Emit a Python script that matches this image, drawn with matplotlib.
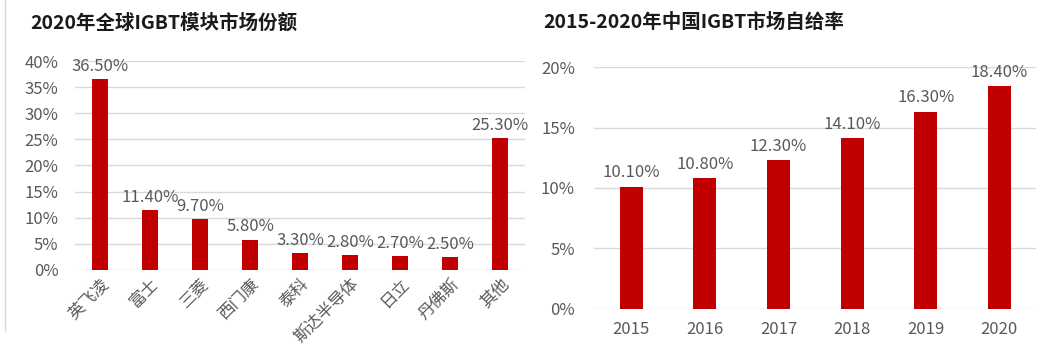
import matplotlib.pyplot as plt
from matplotlib.ticker import PercentFormatter
import matplotlib.lines as mlines

plt.rcParams['font.family'] = ['Noto Sans CJK SC', 'DejaVu Sans']

# Left chart: 2020 global IGBT module market share
companies = ['英飞凌', '富士', '三菱', '西门康', '泰科', '斯达半导体', '日立', '丹佛斯', '其他']
shares = [36.5, 11.4, 9.7, 5.8, 3.3, 2.8, 2.7, 2.5, 25.3]

# Right chart: China IGBT self-sufficiency rate
years = ['2015', '2016', '2017', '2018', '2019', '2020']
self_rate = [10.1, 10.8, 12.3, 14.1, 16.3, 18.4]

RED = '#C00000'
GREY = '#595959'
GRID = '#D9D9D9'

fig = plt.figure(figsize=(10.52, 3.51), dpi=100)
fig.patch.set_facecolor('white')

def style_axes(ax, ymax, step, ypad):
    ax.set_ylim(0, ymax)
    ax.set_yticks([i * step for i in range(int(round(ymax / step)) + 1)])
    ax.yaxis.set_major_formatter(PercentFormatter(decimals=0))
    ax.grid(True, axis='y', color=GRID, linewidth=1)
    ax.set_axisbelow(True)
    for s in ax.spines.values():
        s.set_visible(False)
    ax.tick_params(axis='both', length=0, colors=GREY, labelsize=12)
    ax.tick_params(axis='y', pad=ypad)

# left panel
ax1 = fig.add_axes([0.0713, 0.231, 0.428, 0.595])
x1 = range(len(companies))
ax1.bar(x1, shares, width=0.31, color=RED)
ax1.set_xlim(-0.5, len(companies) - 0.5)
style_axes(ax1, 40, 5, 12)
ax1.set_xticks(list(x1))
ax1.set_xticklabels(companies, rotation=45, ha='right', rotation_mode='anchor')
ax1.tick_params(axis='x', pad=4)
for i, v in zip(x1, shares):
    ax1.annotate(f'{v:.2f}%', (i, v), xytext=(0, 3), textcoords='offset points',
                 ha='center', va='bottom', fontsize=12, color=GREY)
fig.text(0.029, 0.935, '2020年全球IGBT模块市场份额', fontsize=14,
         fontweight='bold', color='#1a1a1a', va='center')

# right panel
ax2 = fig.add_axes([0.565, 0.120, 0.420, 0.689])
x2 = range(len(years))
ax2.bar(x2, self_rate, width=0.31, color=RED)
ax2.set_xlim(-0.5, len(years) - 0.5)
style_axes(ax2, 20, 5, 14)
ax2.set_xticks(list(x2))
ax2.set_xticklabels(years)
ax2.tick_params(axis='x', pad=9)
for i, v in zip(x2, self_rate):
    ax2.annotate(f'{v:.2f}%', (i, v), xytext=(0, 4), textcoords='offset points',
                 ha='center', va='bottom', fontsize=12, color=GREY)
fig.text(0.516, 0.935, '2015-2020年中国IGBT市场自给率', fontsize=14,
         fontweight='bold', color='#1a1a1a', va='center')

# faint panel border on the left
fig.add_artist(mlines.Line2D([0.005, 0.005], [0.06, 1.0], color=GRID, linewidth=1))

fig.savefig('out.png', dpi=100, facecolor='white')
